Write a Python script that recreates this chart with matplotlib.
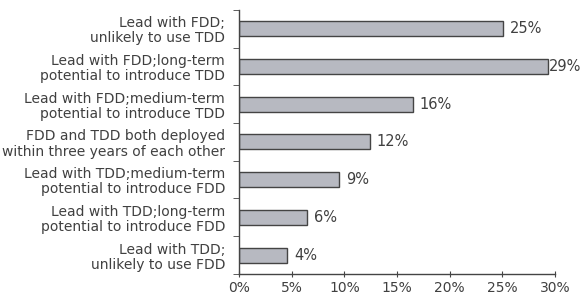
import matplotlib.pyplot as plt
import numpy as np

categories = [
    "Lead with FDD;\nunlikely to use TDD",
    "Lead with FDD;long-term\npotential to introduce TDD",
    "Lead with FDD;medium-term\npotential to introduce TDD",
    "FDD and TDD both deployed\nwithin three years of each other",
    "Lead with TDD;medium-term\npotential to introduce FDD",
    "Lead with TDD;long-term\npotential to introduce FDD",
    "Lead with TDD;\nunlikely to use FDD",
]
values = [25.1, 29.3, 16.5, 12.4, 9.5, 6.5, 4.6]
value_labels = ["25%", "29%", "16%", "12%", "9%", "6%", "4%"]
x_ticks = [0, 5, 10, 15, 20, 25, 30]
x_tick_labels = ["0%", "5%", "10%", "15%", "20%", "25%", "30%"]

text_color = "#404040"
plt.rcParams['font.family'] = ['DejaVu Sans']

fig = plt.figure(figsize=(5.83, 3.01), dpi=100)
ax = fig.add_axes([0.41, 0.09, 0.542, 0.877])

y = np.arange(len(categories))
ax.barh(y, values, height=0.4, color="#b7b9c1", edgecolor="#444444", linewidth=1.0)

for yi, v, lab in zip(y, values, value_labels):
    off = 1 if v > 28 else 5
    ax.annotate(lab, (v, yi), xytext=(off, 0), textcoords="offset points",
                va="center", ha="left", fontsize=10.5, color=text_color)

ax.set_xlim(0, 30)
ax.set_ylim(len(categories) - 0.5, -0.5)

ax.set_yticks(y)
ax.set_yticklabels(categories, fontsize=10, color=text_color, linespacing=1.1)
ax.set_yticks(np.arange(-0.5, len(categories)), minor=True)
ax.tick_params(axis="y", which="major", length=0, pad=10)
ax.tick_params(axis="y", which="minor", length=4, direction="out", color="#444444")

ax.set_xticks(x_ticks)
ax.set_xticklabels(x_tick_labels, fontsize=10, color=text_color)
ax.tick_params(axis="x", length=4, direction="inout", color="#444444", pad=3)

for side in ["top", "right"]:
    ax.spines[side].set_visible(False)
for side in ["left", "bottom"]:
    ax.spines[side].set_color("#444444")
    ax.spines[side].set_linewidth(1.0)

fig.savefig("out.png", dpi=100)
